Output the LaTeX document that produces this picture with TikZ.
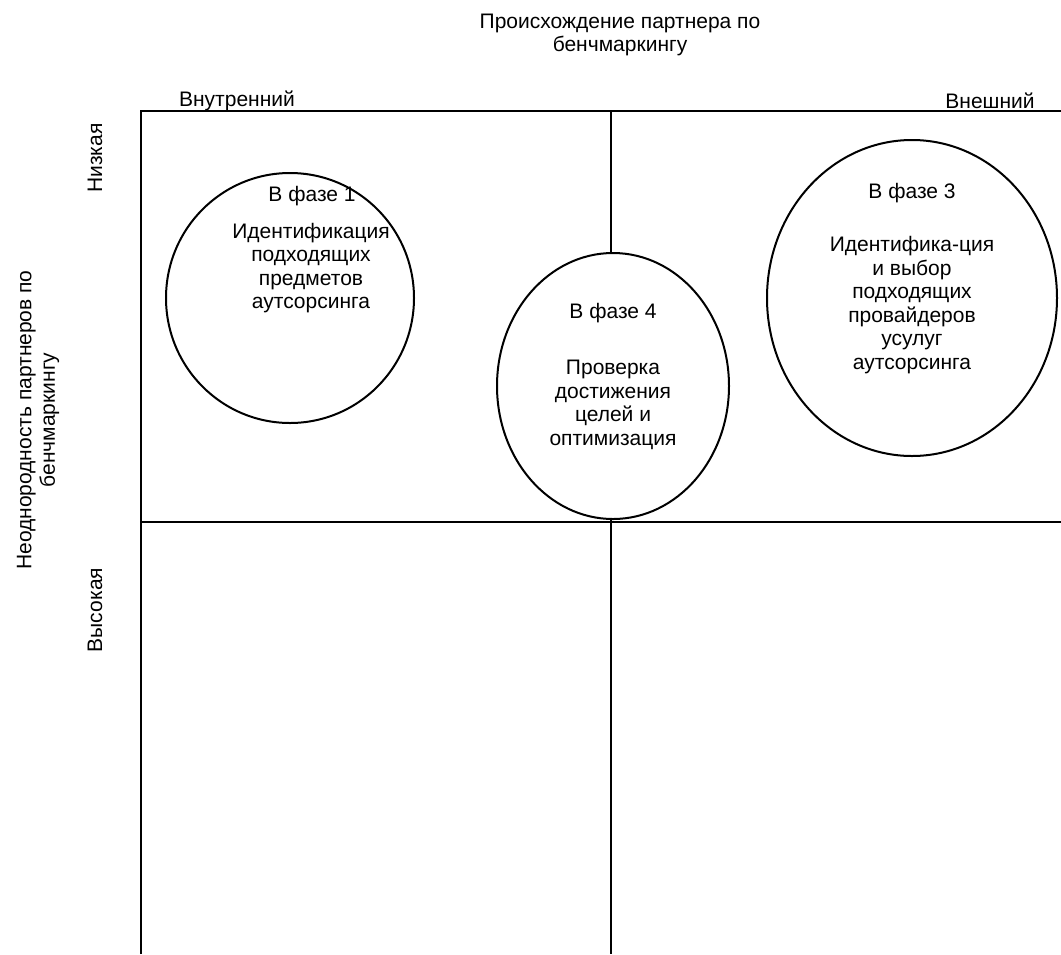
\documentclass[tikz,border=0pt]{standalone}
\usepackage{fontspec}
\setmainfont{Liberation Sans}
\usetikzlibrary{positioning,shapes.geometric}

\begin{document}
\begin{tikzpicture}[x=1pt,y=-1pt,line width=2pt,
  every node/.style={font=\fontsize{21}{23.5}\selectfont,align=center,inner sep=0pt},
  phase/.style={ellipse,draw,fill=white}]
\useasboundingbox (0,0) rectangle (1061,954);
% grid
\coordinate (nw) at (141,111);
\coordinate (ne) at (1061,111);
\coordinate (w) at (141,522);
\coordinate (e) at (1061,522);
\coordinate (sw) at (141,954);
\coordinate (n) at (611,111);
\coordinate (s) at (611,954);
\draw (sw) -- (nw) -- (ne);
\draw (w) -- (e);
\draw (n) -- (s);
% phases
\node[phase,minimum width=248,minimum height=250] (p1) at (290,298) {};
\node[phase,minimum width=232,minimum height=266] (p4) at (613,386) {};
\node[phase,minimum width=290,minimum height=316] (p3) at (912,298) {};
\node (h1) at (312,196) {В фазе 1};
\node (b1) at (311,268) {Идентификация\\подходящих\\предметов\\аутсорсинга};
\node (h4) at (613,313) {В фазе 4};
\node (b4) at (613,405) {Проверка\\достижения\\целей и\\оптимизация};
\node (h3) at (912,193) {В фазе 3};
\node (b3) at (912,305) {Идентифика-ция\\и выбор\\подходящих\\провайдеров\\усулуг\\аутсорсинга};
% axes
\node (xlab) at (620,35) {Происхождение партнера по\\бенчмаркингу};
\node (inner) at (237,101) {Внутренний};
\node (outer) at (990,101) {Внешний};
\node[rotate=90] (ylab) at (38,420) {Неоднородность партнеров по\\бенчмаркингу};
\node[rotate=90] (low) at (95,158) {Низкая};
\node[rotate=90] (high) at (95,610) {Высокая};
\end{tikzpicture}
\end{document}
